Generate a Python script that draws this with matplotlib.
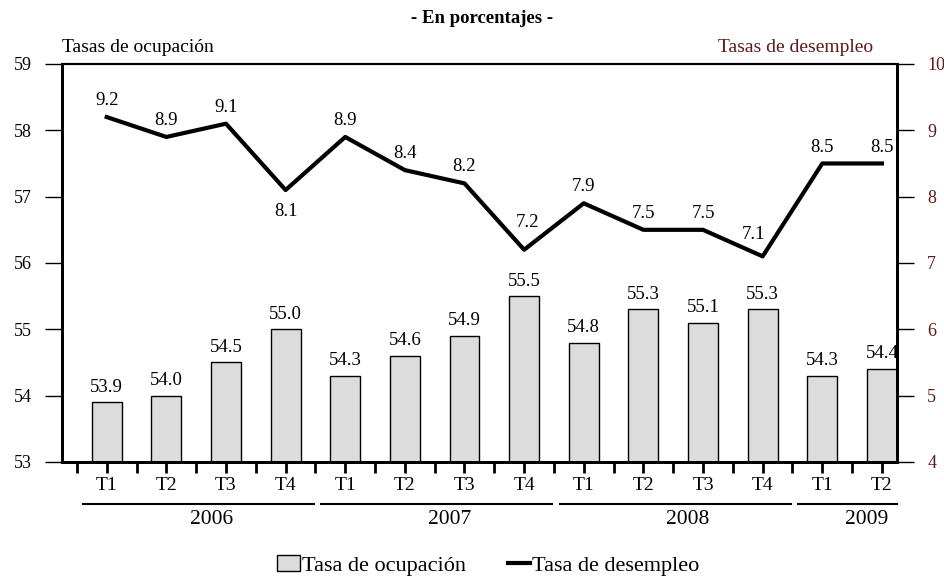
import numpy as np
import matplotlib.pyplot as plt
import matplotlib.transforms as mtransforms
from matplotlib.patches import Patch
from matplotlib.lines import Line2D

plt.rcParams['font.family'] = ['Liberation Serif', 'DejaVu Serif']

# Datos
trimestres = ['T1', 'T2', 'T3', 'T4', 'T1', 'T2', 'T3', 'T4',
              'T1', 'T2', 'T3', 'T4', 'T1', 'T2']
anios = ['2006', '2007', '2008', '2009']
trim_por_anio = [4, 4, 4, 2]
ocupacion = [53.9, 54.0, 54.5, 55.0, 54.3, 54.6, 54.9, 55.5,
             54.8, 55.3, 55.1, 55.3, 54.3, 54.4]
desempleo = [9.2, 8.9, 9.1, 8.1, 8.9, 8.4, 8.2, 7.2,
             7.9, 7.5, 7.5, 7.1, 8.5, 8.5]

rojo = '#5c1a1a'
x = np.arange(len(trimestres))

fig = plt.figure(figsize=(9.45, 5.78), dpi=100)
ax = fig.add_axes([0.0656, 0.2007, 0.8834, 0.6886])
ax2 = ax.twinx()

# Barras - tasa de ocupacion
ax.bar(x, [v - 53 for v in ocupacion], bottom=53, width=0.5,
       color='#dcdcdc', edgecolor='black', linewidth=1.0, zorder=2)
for xi, v in zip(x, ocupacion):
    ax.text(xi, v + 0.1, f'{v:.1f}', ha='center', va='bottom', fontsize=13.5)

ax.set_xlim(-0.75, 13.25)
ax.set_ylim(53, 59)
ax.set_yticks(range(53, 60))
ax.tick_params(axis='y', direction='out', length=12, width=1, labelsize=13, pad=10)

# Linea - tasa de desempleo
ax2.plot(x, desempleo, color='black', linewidth=3, zorder=3)
for i, (xi, v) in enumerate(zip(x, desempleo)):
    if i == 3:      # 8.1 debajo
        ax2.text(xi, v - 0.2, f'{v:.1f}', ha='center', va='top', fontsize=13.5)
    elif i == 7:    # 7.2 dentro de la V
        ax2.text(xi + 0.05, v + 0.28, f'{v:.1f}', ha='center', va='bottom', fontsize=13.5)
    elif i == 11:   # 7.1 a la izquierda
        ax2.text(xi - 0.15, v + 0.2, f'{v:.1f}', ha='center', va='bottom', fontsize=13.5)
    else:
        ax2.text(xi, v + 0.12, f'{v:.1f}', ha='center', va='bottom', fontsize=13.5)
ax2.set_ylim(4, 10)
ax2.set_yticks(range(4, 11))
ax2.tick_params(axis='y', direction='out', length=12, width=1, labelsize=13,
                pad=10, labelcolor=rojo)

# Eje x
ax.set_xticks(np.arange(-0.5, 13.01, 0.5))
ax.set_xticklabels([])
ax.tick_params(axis='x', direction='out', length=8, width=2)
trans = mtransforms.blended_transform_factory(ax.transData, ax.transAxes)
for xi, t in zip(x, trimestres):
    ax.text(xi, -0.06, t, transform=trans, ha='center', va='center', fontsize=14)

inicio = 0
for anio, n in zip(anios, trim_por_anio):
    x0 = inicio - 0.4
    x1 = min(inicio + n - 1 + 0.47, 13.25)
    ax.plot([x0, x1], [-0.106, -0.106], color='black', linewidth=1.5,
            transform=trans, clip_on=False)
    ax.text((inicio + inicio + n - 1) / 2 + 0.25, -0.145, anio, transform=trans,
            ha='center', va='center', fontsize=15.5)
    inicio += n

for a in (ax, ax2):
    a.spines['left'].set_linewidth(2)
    a.spines['right'].set_linewidth(2)
    a.spines['bottom'].set_linewidth(2)
    a.spines['top'].set_linewidth(1.5)

# Textos
fig.text(0.51, 0.968, '- En porcentajes -', ha='center', va='center',
         fontsize=13.5, fontweight='bold')
fig.text(0.0656, 0.918, 'Tasas de ocupación', ha='left', va='center', fontsize=14)
fig.text(0.924, 0.918, 'Tasas de desempleo', ha='right', va='center', fontsize=14,
         color=rojo)

# Leyenda
handles = [Patch(facecolor='#dcdcdc', edgecolor='black', linewidth=1.0),
           Line2D([0], [0], color='black', linewidth=3)]
fig.legend(handles, ['Tasa de ocupación', 'Tasa de desempleo'], loc='center',
           bbox_to_anchor=(0.517, 0.022), ncol=2, frameon=False, fontsize=16,
           handlelength=1.0, handletextpad=0.1, columnspacing=1.9)

fig.savefig('out.png', dpi=100)
